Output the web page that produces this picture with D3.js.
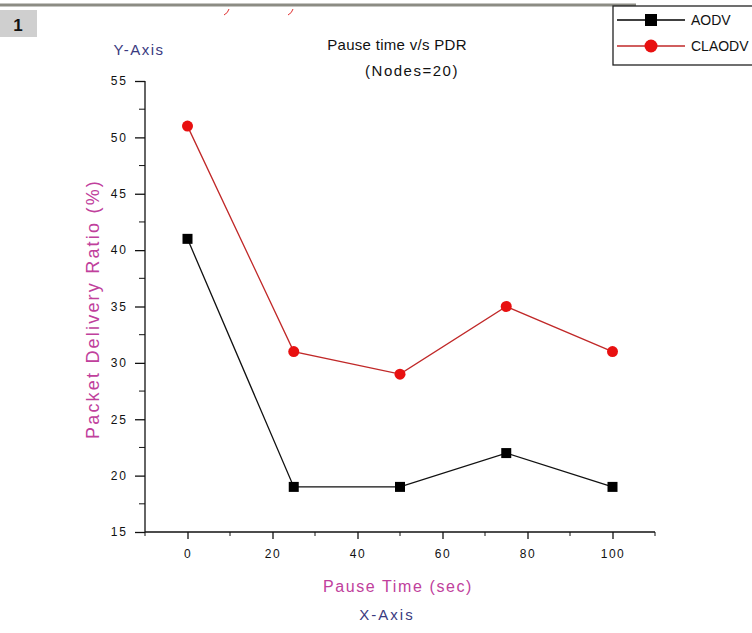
<!DOCTYPE html>
<html>
<head>
<meta charset="utf-8">
<script src="https://cdn.jsdelivr.net/npm/d3@7"></script>
<style>
  body { margin: 0; background: #fff; }
  svg { display: block; }
</style>
</head>
<body>
<div id="chart"></div>
<script>
// data
var pauseTimes = [0, 25, 50, 75, 100];
var aodv = [41, 19, 19, 22, 19];
var claodv = [51, 31, 29, 35, 31];
var seriesNames = ["AODV", "CLAODV"];
var xTicks = [0, 20, 40, 60, 80, 100];
var yTicks = [15, 20, 25, 30, 35, 40, 45, 50, 55];

function main(){
    var W = 752, H = 633;
    var svg = d3.select("#chart").append("svg")
        .attr("width", W)
        .attr("height", H)
        .style("font-family", "Liberation Sans, Arial, sans-serif");

    var xScale = d3.scaleLinear().domain([-10, 110]).range([145, 655]);
    var yScale = d3.scaleLinear().domain([15, 55]).range([532, 81]);

    // top strip bits (cropped page)
    svg.append("line")
        .attr("x1", 0).attr("x2", 636).attr("y1", 5).attr("y2", 5)
        .attr("stroke", "#8c8c84").attr("stroke-width", 3);
    svg.append("path")
        .attr("d", "M229,9 Q228,13 224,15")
        .attr("fill", "none").attr("stroke", "#e03030").attr("stroke-width", 1);
    svg.append("path")
        .attr("d", "M293,9 Q292,13 288,15")
        .attr("fill", "none").attr("stroke", "#e03030").attr("stroke-width", 1);
    svg.append("rect")
        .attr("x", 0).attr("y", 10).attr("width", 37).attr("height", 27)
        .attr("fill", "#cfcfcf");
    svg.append("text")
        .attr("x", 18).attr("y", 31)
        .attr("text-anchor", "middle")
        .attr("font-size", "17px").attr("font-weight", "bold")
        .attr("fill", "#111")
        .text("1");

    // title
    svg.append("text")
        .attr("x", 397).attr("y", 50)
        .attr("text-anchor", "middle")
        .attr("font-size", "15px")
        .attr("letter-spacing", "0.3px")
        .attr("fill", "#111")
        .text("Pause time v/s PDR");
    svg.append("text")
        .attr("x", 412).attr("y", 76)
        .attr("text-anchor", "middle")
        .attr("font-size", "15px")
        .attr("letter-spacing", "1.5px")
        .attr("fill", "#111")
        .text("(Nodes=20)");

    svg.append("text")
        .attr("x", 139).attr("y", 55)
        .attr("text-anchor", "middle")
        .attr("font-size", "15px")
        .attr("letter-spacing", "1.5px")
        .attr("fill", "#3a3a80")
        .text("Y-Axis");

    // axes
    var xAxis = d3.axisBottom(xScale).tickValues(xTicks).tickSize(7).tickPadding(10)
        .tickFormat(d3.format("d"));
    var gx = svg.append("g")
        .attr("transform", "translate(0," + 532 + ")")
        .call(xAxis);
    gx.select(".domain").attr("d", "M145,0H655").attr("stroke", "#111").attr("stroke-width", 1.3);
    gx.selectAll(".tick line").attr("stroke", "#111").attr("stroke-width", 1.3);
    gx.selectAll(".tick text").attr("font-size", "12px").attr("letter-spacing", "1.5px")
        .attr("font-family", "Liberation Sans, Arial, sans-serif").attr("fill", "#111");
    // x minor ticks
    gx.selectAll(".minor")
        .data(d3.range(-10, 111, 20))
        .enter().append("line")
        .attr("x1", function(d){ return xScale(d); })
        .attr("x2", function(d){ return xScale(d); })
        .attr("y1", 0).attr("y2", 4)
        .attr("stroke", "#111");

    var yAxis = d3.axisLeft(yScale).tickValues(yTicks).tickSize(10).tickPadding(7)
        .tickFormat(d3.format("d"));
    var gy = svg.append("g")
        .attr("transform", "translate(" + 145 + ",0)")
        .call(yAxis);
    gy.select(".domain").attr("d", "M0,532V81").attr("stroke", "#111").attr("stroke-width", 1.3);
    gy.selectAll(".tick line").attr("stroke", "#111").attr("stroke-width", 1.3);
    gy.selectAll(".tick text").attr("font-size", "12px").attr("letter-spacing", "2px")
        .attr("font-family", "Liberation Sans, Arial, sans-serif").attr("fill", "#111");
    gy.selectAll(".minor")
        .data(d3.range(17.5, 55, 5))
        .enter().append("line")
        .attr("x1", 0).attr("x2", -6)
        .attr("y1", function(d){ return yScale(d); })
        .attr("y2", function(d){ return yScale(d); })
        .attr("stroke", "#111");

    // axis titles
    svg.append("text")
        .attr("transform", "translate(99,309) rotate(-90)")
        .attr("text-anchor", "middle")
        .attr("font-size", "18px")
        .attr("letter-spacing", "2.2px")
        .attr("fill", "#c0409c")
        .text("Packet Delivery Ratio (%)");
    svg.append("text")
        .attr("x", 398).attr("y", 592)
        .attr("text-anchor", "middle")
        .attr("font-size", "16px")
        .attr("letter-spacing", "1.6px")
        .attr("fill", "#c0409c")
        .text("Pause Time (sec)");
    svg.append("text")
        .attr("x", 387).attr("y", 620)
        .attr("text-anchor", "middle")
        .attr("font-size", "15px")
        .attr("letter-spacing", "2px")
        .attr("fill", "#3a3a80")
        .text("X-Axis");

    var line = d3.line()
        .x(function(d){ return xScale(d[0]); })
        .y(function(d){ return yScale(d[1]); });

    var aodvPts = pauseTimes.map(function(t, i){ return [t, aodv[i]]; });
    var claodvPts = pauseTimes.map(function(t, i){ return [t, claodv[i]]; });

    svg.append("path").datum(aodvPts)
        .attr("d", line).attr("fill", "none")
        .attr("stroke", "#111").attr("stroke-width", 1.3);
    svg.append("path").datum(claodvPts)
        .attr("d", line).attr("fill", "none")
        .attr("stroke", "#c02828").attr("stroke-width", 1.3);

    svg.selectAll(".sq").data(aodvPts).enter().append("rect")
        .attr("x", function(d){ return xScale(d[0]) - 5; })
        .attr("y", function(d){ return yScale(d[1]) - 5; })
        .attr("width", 10).attr("height", 10)
        .attr("fill", "#000");
    svg.selectAll(".dot").data(claodvPts).enter().append("circle")
        .attr("cx", function(d){ return xScale(d[0]); })
        .attr("cy", function(d){ return yScale(d[1]); })
        .attr("r", 5.5)
        .attr("fill", "#e81010");

    // legend
    var lg = svg.append("g");
    lg.append("rect")
        .attr("x", 613).attr("y", 6).attr("width", 150).attr("height", 59)
        .attr("fill", "#fff").attr("stroke", "#222").attr("stroke-width", 1.3);
    var colors = ["#000", "#c02828"];
    seriesNames.forEach(function(name, i){
        var y = 20 + i * 26;
        lg.append("line")
            .attr("x1", 617).attr("x2", 685).attr("y1", y).attr("y2", y)
            .attr("stroke", colors[i]).attr("stroke-width", 1.3);
        if (i === 0) {
            lg.append("rect").attr("x", 645).attr("y", y - 6).attr("width", 12).attr("height", 12)
                .attr("fill", "#000");
        } else {
            lg.append("circle").attr("cx", 651).attr("cy", y).attr("r", 6.5)
                .attr("fill", "#e81010");
        }
        lg.append("text")
            .attr("x", 691).attr("y", y + 5)
            .attr("font-size", "14px")
            .attr("fill", "#111")
            .text(name);
    });
}
main();
</script>
</body>
</html>
